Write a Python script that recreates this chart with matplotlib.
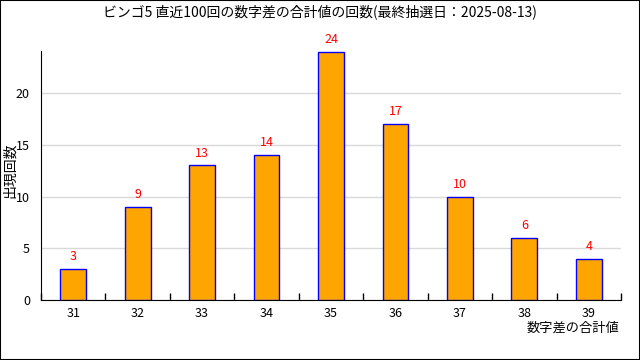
import matplotlib
matplotlib.use("Agg")
import matplotlib.pyplot as plt
from matplotlib.patches import Rectangle
import numpy as np

plt.rcParams['font.family'] = ['Noto Sans CJK JP', 'DejaVu Sans']

categories = ['31', '32', '33', '34', '35', '36', '37', '38', '39']
counts = [3, 9, 13, 14, 24, 17, 10, 6, 4]
title = 'ビンゴ5 直近100回の数字差の合計値の回数(最終抽選日：2025-08-13)'

fig = plt.figure(figsize=(6.4, 3.6), dpi=100)
fig.patches.append(Rectangle((0, 0), 1, 1, transform=fig.transFigure,
                             fill=False, edgecolor='black', linewidth=1.5))
ax = fig.add_axes([41/640, 60/360, 580/640, 249/360])

x = np.arange(len(categories))
ax.bar(x, counts, width=0.4, color='#FFA500', edgecolor='#0000FF', linewidth=1, zorder=3)
for xi, v in zip(x, counts):
    ax.text(xi, v + 0.55, str(v), color='red', ha='center', va='bottom', fontsize=9)

ax.set_xlim(-0.5, len(categories) - 0.5)
ax.set_ylim(0, 24.06)
ax.set_yticks([0, 5, 10, 15, 20])
ax.yaxis.grid(True, color='#d9d9d9', linewidth=1, zorder=0)
ax.set_xticks(x)
ax.set_xticklabels(categories)
ax.tick_params(axis='x', which='major', length=0, pad=5, labelsize=9)
ax.set_xticks(np.arange(-0.5, len(categories), 1.0), minor=True)
ax.tick_params(axis='x', which='minor', direction='in', length=5, width=1)
ax.tick_params(axis='y', length=0, labelsize=9, pad=8)
for s in ['top', 'right']:
    ax.spines[s].set_visible(False)

fig.text(0.5, 1 - 12/360, title, ha='center', va='center', fontsize=10)
fig.text(619/640, 1 - 328/360, '数字差の合計値', ha='right', va='center', fontsize=9.5)
fig.text(10/640, 1 - 170/360, '出現回数', ha='center', va='center', rotation=90, fontsize=10)

fig.savefig('out.png', dpi=100)
